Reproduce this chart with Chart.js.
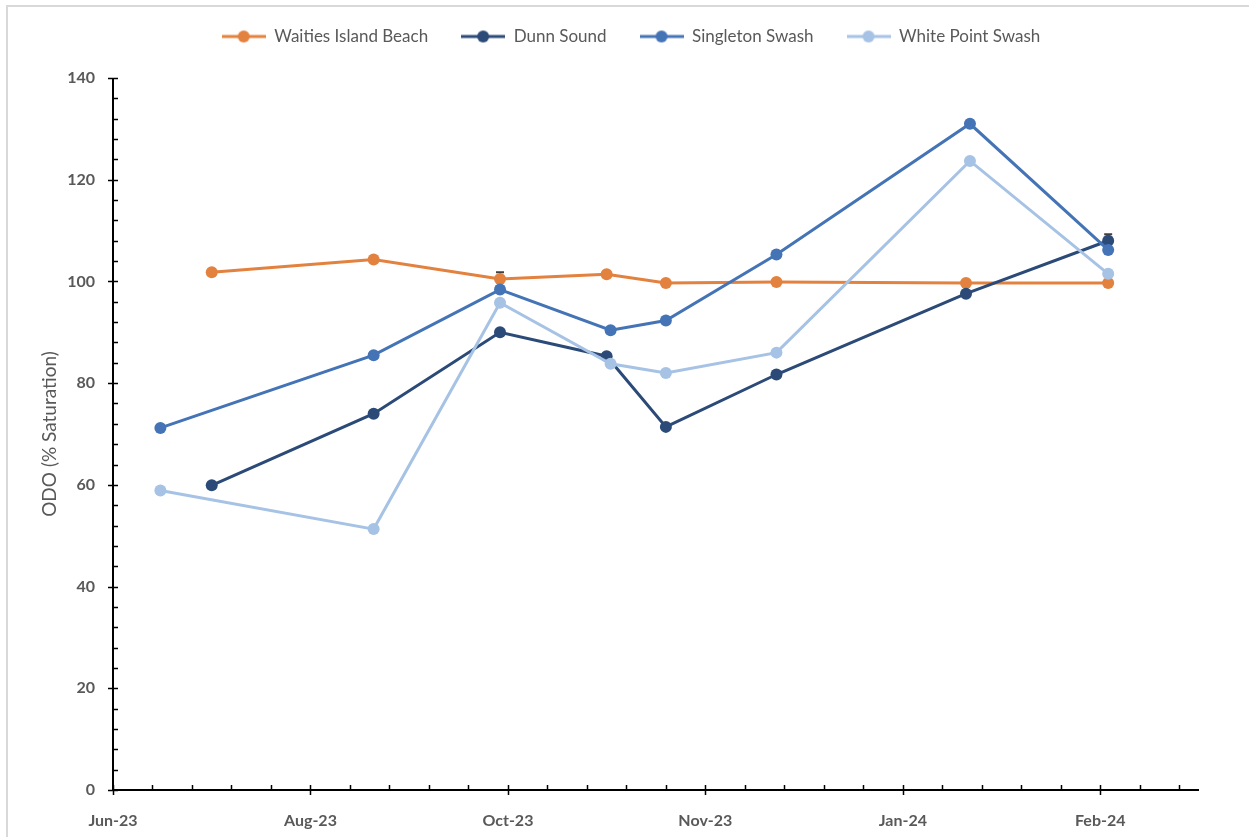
<!DOCTYPE html>
<html lang="en">

<head>
    <meta charset="UTF-8">
    <title>ODO (% Saturation)</title>
    <script src="https://cdn.jsdelivr.net/npm/chart.js"></script>
    <style>
        body {
            margin: 0;
            padding: 0;
            background: #fff;
        }

        .wrap {
            position: relative;
            width: 1249px;
            height: 837px;
            overflow: hidden;
        }

        /* grey chart-area frame, only the top and left edges are in view */
        .frame {
            position: absolute;
            left: 6px;
            top: 5px;
            width: 1400px;
            height: 1000px;
            border-left: 2px solid #d9d9d9;
            border-top: 2px solid #d9d9d9;
        }

        canvas {
            position: absolute;
            left: 0;
            top: 0;
        }
    </style>
</head>

<body>
    <div class="wrap">
        <div class="frame"></div>
        <canvas id="odo-chart" width="1249" height="837"></canvas>
    </div>

    <script type="text/javascript">
        // sampling dates (two sets, the sites were not always visited on the same day)
        var datesA = ['2023-07-18', '2023-08-28', '2023-09-29', '2023-10-26', '2023-11-10', '2023-12-08', '2024-01-25', '2024-03-01'];
        var datesB = ['2023-07-05', '2023-08-28', '2023-09-29', '2023-10-27', '2023-11-10', '2023-12-08', '2024-01-26', '2024-03-01'];

        var waities = [101.8, 104.3, 100.5, 101.4, 99.7, 99.9, 99.7, 99.7];
        var dunn = [59.9, 74.0, 90.0, 85.3, 71.4, 81.7, 97.6, 108.0];
        var singleton = [71.2, 85.5, 98.4, 90.4, 92.3, 105.3, 131.0, 106.2];
        var whitePoint = [58.9, 51.3, 95.8, 83.8, 82.0, 86.0, 123.7, 101.5];

        // only the bars that show above the markers
        var waitiesErr = [null, null, 1.3, null, null, null, null, null];
        var dunnErr = [null, null, null, null, null, null, null, 1.3];

        var seriesNames = ['Waities Island Beach', 'Dunn Sound', 'Singleton Swash', 'White Point Swash'];
        var seriesColors = ['#E3813F', '#2B4A77', '#4474B6', '#A6C2E4'];

        var monthNames = ['Jan', 'Feb', 'Mar', 'Apr', 'May', 'Jun', 'Jul', 'Aug', 'Sep', 'Oct', 'Nov', 'Dec'];

        // x axis runs on excel day numbers
        var xMin = toSerial('2023-06-23');
        var xMax = toSerial('2024-03-24');
        var xMajor = 50;
        var xMinor = 10;
        var yMin = 0;
        var yMax = 140;
        var yMajor = 20;
        var yMinor = 4;

        var textGrey = '#595959';
        var fontName = 'Lato, "Open Sans", sans-serif';

        function toSerial(s) {
            var p = s.split('-');
            var t = Date.UTC(+p[0], +p[1] - 1, +p[2]) - Date.UTC(1899, 11, 30);
            return Math.round(t / 86400000);
        }

        function serialLabel(v) {
            var d = new Date(Date.UTC(1899, 11, 30) + v * 86400000);
            var yy = String(d.getUTCFullYear()).slice(2);
            return monthNames[d.getUTCMonth()] + '-' + yy;
        }

        function toPoints(dates, values) {
            return dates.map(function (d, i) {
                return { x: toSerial(d), y: values[i] };
            });
        }

        // line with a dot, like the excel legend key
        function legendMarker(color) {
            var c = document.createElement('canvas');
            c.width = 44;
            c.height = 14;
            var g = c.getContext('2d');
            g.strokeStyle = color;
            g.lineWidth = 3;
            g.beginPath();
            g.moveTo(0, 7);
            g.lineTo(44, 7);
            g.stroke();
            g.fillStyle = color;
            g.beginPath();
            g.arc(22, 7, 6, 0, Math.PI * 2);
            g.fill();
            return c;
        }

        var legendMarkers = seriesColors.map(legendMarker);

        function makeDataset(i, dates, values, errs) {
            return {
                label: seriesNames[i],
                data: toPoints(dates, values),
                errors: errs,
                borderColor: seriesColors[i],
                backgroundColor: seriesColors[i],
                borderWidth: 3,
                pointRadius: 6,
                pointHoverRadius: 6,
                pointBorderWidth: 0,
                pointStyle: 'circle',
                tension: 0,
                fill: false,
                order: 4 - i
            };
        }

        var axesPlugin = {
            id: 'excelAxes',
            beforeLayout: function (chart) {
                // legend box needs more room under it than chart.js gives
                var lg = chart.legend;
                if (lg && !lg.patched) {
                    var fit = lg.fit;
                    lg.fit = function () {
                        fit.call(this);
                        this.height += 23;
                    };
                    lg.patched = true;
                }
            },
            afterLayout: function (chart) {
                // excel centres the legend a bit left of the plot
                chart.legend.left += 63;
            },
            beforeDatasetsDraw: function (chart) {
                var ctx = chart.ctx;
                var x = chart.scales.x;
                var y = chart.scales.y;
                var left = x.left, right = x.right, top = y.top, bottom = y.bottom;
                var v, px, py, major;

                ctx.save();
                ctx.strokeStyle = '#000';
                ctx.lineWidth = 2;
                ctx.beginPath();
                ctx.moveTo(left, top);
                ctx.lineTo(left, bottom);
                ctx.lineTo(right, bottom);
                ctx.stroke();

                ctx.lineWidth = 1.5;
                ctx.beginPath();
                for (v = xMin; v <= xMax; v += xMinor) {
                    px = Math.round(x.getPixelForValue(v)) + 0.5;
                    major = (v - xMin) % xMajor === 0;
                    ctx.moveTo(px, bottom - 5);
                    ctx.lineTo(px, major ? bottom + 5 : bottom);
                }
                for (v = yMin; v <= yMax; v += yMinor) {
                    py = Math.round(y.getPixelForValue(v)) + 0.5;
                    major = v % yMajor === 0;
                    ctx.moveTo(left + 5, py);
                    ctx.lineTo(major ? left - 5 : left, py);
                }
                ctx.stroke();

                // error bars, drawn under the markers
                ctx.strokeStyle = '#404040';
                ctx.lineWidth = 2;
                chart.data.datasets.forEach(function (ds) {
                    if (!ds.errors) return;
                    ds.errors.forEach(function (e, k) {
                        if (e == null) return;
                        var pt = ds.data[k];
                        var cx = x.getPixelForValue(pt.x);
                        var y0 = y.getPixelForValue(pt.y);
                        var y1 = y.getPixelForValue(pt.y + e);
                        ctx.beginPath();
                        ctx.moveTo(cx, y0);
                        ctx.lineTo(cx, y1);
                        ctx.moveTo(cx - 4, y1);
                        ctx.lineTo(cx + 4, y1);
                        ctx.stroke();
                    });
                });
                ctx.restore();
            }
        };

        var ctx = document.getElementById('odo-chart').getContext('2d');
        var chart = new Chart(ctx, {
            type: 'line',
            data: {
                datasets: [
                    makeDataset(0, datesA, waities, waitiesErr),
                    makeDataset(1, datesA, dunn, dunnErr),
                    makeDataset(2, datesB, singleton, null),
                    makeDataset(3, datesB, whitePoint, null)
                ]
            },
            options: {
                responsive: false,
                animation: false,
                events: [],
                layout: {
                    padding: { top: -5, left: 0, right: 50, bottom: 0 }
                },
                plugins: {
                    tooltip: { enabled: false },
                    legend: {
                        position: 'top',
                        labels: {
                            usePointStyle: true,
                            pointStyleWidth: 44,
                            padding: 33,
                            color: textGrey,
                            font: { family: fontName, size: 17 },
                            generateLabels: function (chart) {
                                var items = Chart.defaults.plugins.legend.labels.generateLabels(chart);
                                items.forEach(function (it) {
                                    it.pointStyle = legendMarkers[it.datasetIndex];
                                });
                                return items;
                            },
                            sort: function (a, b) {
                                return a.datasetIndex - b.datasetIndex;
                            }
                        }
                    }
                },
                scales: {
                    x: {
                        type: 'linear',
                        min: xMin,
                        max: xMax,
                        grid: { display: false, drawTicks: false },
                        border: { display: false },
                        ticks: {
                            stepSize: xMajor,
                            autoSkip: false,
                            maxRotation: 0,
                            padding: 21,
                            color: textGrey,
                            font: { family: fontName, size: 16, weight: 'bold' },
                            callback: function (v) {
                                return serialLabel(v);
                            }
                        },
                        afterBuildTicks: function (scale) {
                            scale.ticks = scale.ticks.filter(function (t) {
                                return (t.value - xMin) % xMajor === 0;
                            });
                        },
                        afterFit: function (scale) {
                            scale.height = 47;
                        }
                    },
                    y: {
                        min: yMin,
                        max: yMax,
                        grid: { display: false, drawTicks: false },
                        border: { display: false },
                        ticks: {
                            stepSize: yMajor,
                            padding: 18,
                            color: textGrey,
                            font: { family: fontName, size: 16, weight: 'bold' }
                        },
                        title: {
                            display: true,
                            text: 'ODO (% Saturation)',
                            color: textGrey,
                            padding: { top: 38, bottom: 0 },
                            font: { family: fontName, size: 19 }
                        },
                        afterFit: function (scale) {
                            scale.width = 113;
                        }
                    }
                }
            },
            plugins: [axesPlugin]
        });
    </script>
</body>

</html>
